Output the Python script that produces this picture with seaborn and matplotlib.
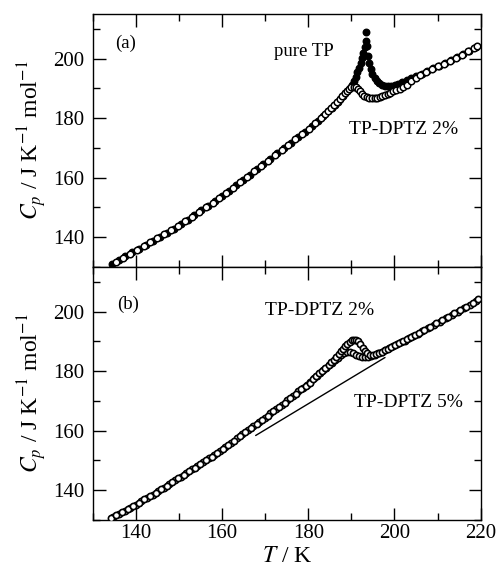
import numpy as np
import pandas as pd
import seaborn as sns
import matplotlib.pyplot as plt
from matplotlib.ticker import MultipleLocator

# panel (a): pure TP (filled) and TP-DPTZ 2% (open)
T_pure = [134.5, 136.0, 137.6, 139.2, 140.8, 142.4, 144.0, 145.6, 147.2, 148.8,
          150.4, 152.0, 153.6, 155.2, 156.8, 158.4, 160.0, 161.6, 163.2, 164.8,
          166.4, 168.0, 169.6, 171.2, 172.8, 174.4, 176.0, 177.6, 179.2, 180.8,
          182.2, 183.4, 184.6, 185.4, 186.1, 186.8, 187.4, 188.0, 188.6, 189.1,
          189.6, 190.1, 190.6, 191.0, 191.4, 191.8, 192.2, 192.5, 192.8, 193.1,
          193.3, 193.5, 193.7, 193.9, 194.2, 194.5, 194.9, 195.4, 195.9, 196.5,
          197.2, 197.9, 198.6, 199.3, 200.1, 200.9, 201.8, 202.8, 203.9, 205.0,
          206.3, 207.6, 209.0, 210.4, 211.8, 213.2, 214.6, 216.0, 217.4, 218.8]
Cp_pure = [131.0, 132.3, 133.6, 134.9, 136.2, 137.5, 138.8, 140.2, 141.5, 142.9,
           144.3, 145.8, 147.4, 149.0, 150.6, 152.2, 153.9, 155.6, 157.4, 159.2,
           161.0, 162.8, 164.6, 166.4, 168.2, 170.0, 171.8, 173.6, 175.4, 177.3,
           179.1, 180.7, 182.3, 183.3, 184.3, 185.4, 186.3, 187.3, 188.3, 189.2,
           190.1, 191.2, 192.6, 194.0, 195.5, 197.0, 198.6, 200.2, 202.0, 204.0,
           205.8, 208.8, 204.2, 201.0, 198.6, 196.6, 194.8, 193.4, 192.4, 191.7,
           191.2, 190.9, 190.8, 190.9, 191.2, 191.6, 192.1, 192.7, 193.4, 194.1,
           194.9, 195.8, 196.7, 197.6, 198.6, 199.5, 200.5, 201.6, 202.7, 203.9]

T_a2 = [135.3, 137.0, 138.6, 140.2, 141.8, 143.4, 145.0, 146.6, 148.2, 149.8,
        151.4, 153.0, 154.6, 156.2, 157.8, 159.4, 161.0, 162.6, 164.2, 165.8,
        167.4, 169.0, 170.6, 172.2, 173.8, 175.4, 177.0, 178.6, 180.2, 181.6,
        182.9, 183.8, 184.6, 185.3, 186.0, 186.7, 187.3, 187.9, 188.5, 189.0,
        189.5, 190.0, 190.5, 191.0, 191.5, 192.0, 192.5, 193.0, 193.6, 194.2,
        194.8, 195.4, 196.0, 196.6, 197.2, 197.8, 198.4, 199.0, 199.7, 200.4,
        201.2, 202.0, 202.9, 203.9, 204.9, 206.0, 207.2, 208.6, 210.0, 211.4,
        212.8, 214.2, 215.6, 217.0, 218.4, 219.2]
Cp_a2 = [131.6, 133.0, 134.3, 135.6, 136.9, 138.3, 139.6, 141.0, 142.4, 143.8,
         145.3, 146.8, 148.4, 150.0, 151.6, 153.3, 155.0, 156.7, 158.5, 160.3,
         162.1, 163.9, 165.7, 167.5, 169.3, 171.1, 172.9, 174.7, 176.5, 178.4,
         180.1, 181.3, 182.4, 183.4, 184.4, 185.4, 186.3, 187.3, 188.3, 189.2,
         189.9, 190.4, 190.6, 190.4, 189.8, 189.0, 188.2, 187.6, 187.1, 186.9,
         186.8, 186.8, 186.9, 187.1, 187.4, 187.7, 188.1, 188.5, 189.0, 189.5,
         189.7, 190.4, 191.3, 192.4, 193.5, 194.5, 195.4, 196.4, 197.4, 198.3,
         199.3, 200.3, 201.3, 202.4, 203.5, 204.2]

# panel (b): TP-DPTZ 2% and 5% (both open)
T_b2 = [134.2, 135.5, 136.8, 138.1, 139.4, 140.7, 142.0, 143.3, 144.6, 145.9,
        147.2, 148.5, 149.8, 151.1, 152.4, 153.7, 155.0, 156.3, 157.6, 158.9,
        160.2, 161.5, 162.8, 164.1, 165.4, 166.7, 168.0, 169.3, 170.6, 171.9,
        173.2, 174.5, 175.8, 177.1, 178.4, 179.4, 180.3, 181.1, 181.9, 182.6,
        183.3, 184.0, 184.7, 185.3, 185.9, 186.5, 187.1, 187.6, 188.1, 188.6,
        189.1, 189.6, 190.1, 190.6, 191.1, 191.6, 192.1, 192.6, 193.1, 193.7,
        194.3, 195.0, 195.7, 196.4, 197.1, 197.8, 198.5, 199.3, 200.1, 201.0,
        201.9, 202.8, 203.8, 204.8, 205.8, 206.9, 208.3, 209.7, 211.1, 212.5,
        213.9, 215.3, 216.7, 218.1, 219.4]
Cp_b2 = [130.6, 131.6, 132.6, 133.7, 134.7, 135.8, 136.9, 138.0, 139.1, 140.3,
         141.5, 142.7, 144.0, 145.2, 146.4, 147.6, 148.8, 150.1, 151.3, 152.6,
         153.9, 155.3, 156.7, 158.1, 159.5, 160.9, 162.3, 163.7, 165.1, 166.5,
         167.9, 169.4, 170.9, 172.4, 173.9, 175.0, 176.2, 177.3, 178.3, 179.3,
         180.2, 181.2, 182.1, 183.0, 183.9, 184.8, 185.8, 186.7, 187.6, 188.5,
         189.3, 189.9, 190.4, 190.6, 190.5, 190.0, 189.0, 187.9, 186.9, 186.1,
         185.6, 185.5, 185.7, 186.1, 186.6, 187.1, 187.6, 188.3, 188.9, 189.5,
         190.1, 190.8, 191.5, 192.3, 193.0, 193.9, 195.0, 196.1, 197.2, 198.3,
         199.4, 200.5, 201.7, 202.9, 204.2]

T_b5 = [134.8, 136.1, 137.4, 138.7, 140.0, 141.3, 142.6, 143.9, 145.2, 146.5,
        147.8, 149.1, 150.4, 151.7, 153.0, 154.3, 155.6, 156.9, 158.2, 159.5,
        160.8, 162.1, 163.4, 164.7, 166.0, 167.3, 168.6, 169.9, 171.2, 172.5,
        173.8, 175.1, 176.4, 177.7, 178.7, 179.6, 180.5, 181.3, 182.0, 182.7,
        183.4, 184.1, 184.8, 185.5, 186.2, 186.9, 187.6, 188.3, 189.0, 189.7,
        190.4, 191.1, 191.8, 192.5, 193.2, 193.9, 194.6, 195.4, 196.2, 197.0,
        197.9, 198.8, 199.7, 200.6, 201.5, 202.4, 203.4, 204.4, 205.4, 206.3,
        207.7, 209.1, 210.5, 211.9, 213.3, 214.7, 216.1, 217.5, 218.9]
Cp_b5 = [131.0, 132.0, 133.1, 134.1, 135.2, 136.3, 137.4, 138.5, 139.7, 140.9,
         142.1, 143.3, 144.6, 145.8, 147.0, 148.2, 149.5, 150.7, 152.0, 153.3,
         154.6, 156.0, 157.4, 158.8, 160.2, 161.6, 163.0, 164.4, 165.8, 167.2,
         168.7, 170.2, 171.7, 173.2, 174.4, 175.5, 176.5, 177.6, 178.5, 179.4,
         180.3, 181.2, 182.1, 182.9, 183.8, 184.6, 185.4, 186.0, 186.4, 186.5,
         186.2, 185.6, 185.1, 184.8, 184.7, 184.8, 185.1, 185.5, 186.0, 186.6,
         187.2, 187.9, 188.5, 189.1, 189.7, 190.3, 191.0, 191.8, 192.6, 193.4,
         194.5, 195.6, 196.7, 197.8, 198.9, 200.0, 201.1, 202.3, 203.6]

# guide line in panel (b)
line_T = [167.8, 197.8]
line_Cp = [158.4, 184.6]

sns.set_style('ticks')
plt.rcParams['font.family'] = ['Liberation Serif', 'DejaVu Serif']
plt.rcParams['mathtext.fontset'] = 'stix'
plt.rcParams['text.color'] = 'black'
plt.rcParams['axes.labelcolor'] = 'black'
plt.rcParams['xtick.color'] = 'black'
plt.rcParams['ytick.color'] = 'black'

fig = plt.figure(figsize=(5.01, 5.78), dpi=100)
ax1 = fig.add_axes([0.185, 0.538, 0.7745, 0.4378])
ax2 = fig.add_axes([0.185, 0.1003, 0.7745, 0.4377])

dfa_p = pd.DataFrame({'T': T_pure, 'Cp': Cp_pure})
dfa_2 = pd.DataFrame({'T': T_a2, 'Cp': Cp_a2})
dfb_2 = pd.DataFrame({'T': T_b2, 'Cp': Cp_b2})
dfb_5 = pd.DataFrame({'T': T_b5, 'Cp': Cp_b5})
dfl = pd.DataFrame({'T': line_T, 'Cp': line_Cp})

sns.scatterplot(data=dfa_p, x='T', y='Cp', ax=ax1, s=22, color='black',
                edgecolor='black', linewidth=1.0, zorder=3)
sns.scatterplot(data=dfa_2, x='T', y='Cp', ax=ax1, s=22, color='white',
                edgecolor='black', linewidth=1.1, zorder=4)

sns.scatterplot(data=dfb_5, x='T', y='Cp', ax=ax2, s=20, color='white',
                edgecolor='black', linewidth=1.2, zorder=3)
sns.scatterplot(data=dfb_2, x='T', y='Cp', ax=ax2, s=20, color='white',
                edgecolor='black', linewidth=1.2, zorder=4)
sns.lineplot(data=dfl, x='T', y='Cp', ax=ax2, color='black', linewidth=1.0)

for ax in (ax1, ax2):
    ax.set_xlim(130, 220)
    ax.set_ylim(130, 215)
    ax.xaxis.set_major_locator(MultipleLocator(20))
    ax.xaxis.set_minor_locator(MultipleLocator(10))
    ax.yaxis.set_major_locator(MultipleLocator(20))
    ax.yaxis.set_minor_locator(MultipleLocator(10))
    ax.tick_params(which='both', direction='in', top=True, right=True,
                   width=1.0, color='black')
    ax.tick_params(which='major', length=9)
    ax.tick_params(which='minor', length=5)
    ax.tick_params(axis='y', which='major', labelsize=15, pad=6)
    ax.tick_params(axis='x', which='major', labelsize=15, pad=3)
    for sp in ax.spines.values():
        sp.set_linewidth(1.0)
        sp.set_color('black')
    ax.set_ylabel('$C_p$ / J K$^{-1}$ mol$^{-1}$', fontsize=17, labelpad=3)

ax1.set_xlabel('')
ax1.tick_params(axis='x', labelbottom=False)
ax2.set_xlabel('$T$ / K', fontsize=17, labelpad=2)

ax1.text(135.2, 205.3, '(a)', fontsize=13.5, va='center', ha='left')
ax1.text(178.9, 202.4, 'pure TP', fontsize=13.5, va='center', ha='center')
ax1.text(202.1, 176.2, 'TP-DPTZ 2%', fontsize=14, va='center', ha='center')

ax2.text(135.7, 202.5, '(b)', fontsize=13.5, va='center', ha='left')
ax2.text(182.6, 200.3, 'TP-DPTZ 2%', fontsize=14, va='center', ha='center')
ax2.text(203.2, 169.5, 'TP-DPTZ 5%', fontsize=14, va='center', ha='center')

fig.savefig('out.png', dpi=100)
